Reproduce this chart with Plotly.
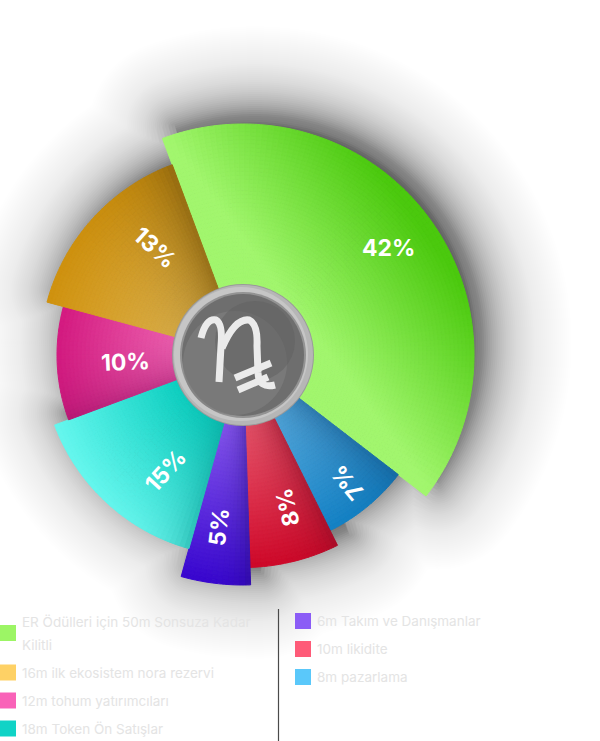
import numpy as np
import plotly.graph_objects as go

# ---------------- data (clockwise from the green slice) ----------------
slice_names = ["ER Ödülleri için 50m Sonsuza Kadar Kilitli", "8m pazarlama", "10m likidite",
               "6m Takım ve Danışmanlar", "18m Token Ön Satışlar", "12m tohum yatırımcıları",
               "16m ilk ekosistem nora rezervi"]
pct_labels = ["42%", "7%", "8%", "5%", "15%", "10%", "13%"]
sweep_deg = [148.0, 26.0, 24.5, 17.5, 54.0, 35.5, 54.5]      # angular share
radius = [231, 196, 212.5, 230, 201, 186, 203]               # radial length
start_deg = -20.4

# legend (two columns)
legend_left = ["ER Ödülleri için 50m Sonsuza Kadar Kilitli", "16m ilk ekosistem nora rezervi",
               "12m tohum yatırımcıları", "18m Token Ön Satışlar"]
legend_left_colors = ["#9cf565", "#fed165", "#f962b8", "#10d3c6"]
legend_right = ["6m Takım ve Danışmanlar", "10m likidite", "8m pazarlama"]
legend_right_colors = ["#8b5cf6", "#fe5b78", "#5ac8fa"]

# ---------------- style ----------------
W, H = 600, 741
CX, CY, R0 = 243, 355, 243
label_frac = [0.78, 0.84, 0.86, 0.855, 0.785, 0.78, 0.785]

# gradient styles: (inner, outer, shadow colour, shadow edge ('s' start/'e' end), strength, width)
styles = [
    None,  # green: linear along bisector
    ("#5cb2e6", "#1382c6", "#16578a", "s", 0.6, 28),
    ("#f05c72", "#cf0829", "#8c0e26", "s", 0.6, 22),
    ("#8c5cf4", "#3806cf", "#28107e", "s", 0.5, 14),
    ("#0fd2c3", "#66f7ee", "#089a92", "s", 0.55, 26),
    ("#f266b4", "#d41a80", "#9c166a", "s", 0.55, 26),
    ("#e5b850", "#d0920e", "#876210", "e", 0.8, 40),
]


def hex2rgb(h):
    h = h.lstrip("#")
    return np.array([int(h[i:i + 2], 16) for i in (0, 2, 4)], dtype=float)


def mix(a, b, t):
    return a + (b - a) * t


def rgbstr(c):
    c = np.clip(c, 0, 255)
    return "rgb(%d,%d,%d)" % tuple(int(round(v)) for v in c)


def px2paper(x, y):
    return x / W, 1 - y / H


starts = np.concatenate([[start_deg], start_deg + np.cumsum(sweep_deg)[:-1]])
mids = starts + np.array(sweep_deg) / 2

fig = go.Figure()

RIN = 58
for i in range(len(sweep_deg)):
    a0, sw, R = starts[i], sweep_deg[i], radius[i]
    na = max(4, int(np.ceil(sw / 1.5)))
    nr = max(4, int(np.ceil((R - RIN) / 4.0)))
    aw = sw / na
    edges_r = np.linspace(RIN, R, nr + 1)
    th_list, w_list, b_list, r_list, c_list = [], [], [], [], []
    for ia in range(na):
        thc = a0 + (ia + 0.5) * aw
        for ir in range(nr):
            rb, rt = edges_r[ir], edges_r[ir + 1]
            rc = 0.5 * (rb + rt)
            if styles[i] is None:
                proj = rc * np.cos(np.radians(thc - mids[i])) / R
                t = np.clip((proj - 0.3) / (0.95 - 0.3), 0, 1)
                col = mix(hex2rgb("#a2f66e"), hex2rgb("#4bc90e"), t)
            else:
                cin, cout, csh, edge, strength, wid = styles[i]
                t = np.clip((rc - 70) / (R - 70), 0, 1)
                col = mix(hex2rgb(cin), hex2rgb(cout), t)
                ea = a0 if edge == "s" else a0 + sw
                dist = rc * abs(np.sin(np.radians(thc - ea)))
                f = strength * np.exp(-dist / wid)
                col = mix(col, hex2rgb(csh), f)
            th_list.append(thc)
            w_list.append(aw)
            b_list.append(rb)
            r_list.append(rt - rb)
            c_list.append(rgbstr(col))
    fig.add_trace(go.Barpolar(
        r=r_list, base=b_list, theta=th_list, width=w_list,
        marker=dict(color=c_list, line=dict(color=c_list, width=1.0)),
        hoverinfo="skip", showlegend=False))

shapes = []

# ---- soft drop shadow behind the chart (dilated / eroded silhouette, layered) ----
grid = np.arange(0, 360, 0.75)


def dilated_profile(d):
    prof = np.full(grid.shape, float(max(d, 0)))
    for i in range(len(sweep_deg)):
        a0, sw, R = starts[i] % 360, sweep_deg[i], radius[i]
        rel = (grid - a0) % 360
        inside = rel <= sw
        dist = np.where(inside, 0, np.minimum(rel - sw, 360 - rel))
        dr = np.radians(dist)
        s = R * np.sin(dr)
        ok = (s <= d) & (dr < np.pi / 2) & (d > 0)
        f = np.where(ok, R * np.cos(dr) + np.sqrt(np.maximum(d * d - s * s, 0)), 0)
        f = np.where(inside, R + d, f)
        prof = np.maximum(prof, f)
    return prof


SHX, SHY = 12, -12
DMIN, DMAX, STEP, PEAK, SCALE = -16, 120, 2, 0.55, 38.0
ds = np.arange(DMIN, DMAX + STEP, STEP)
d_end = PEAK * np.exp(-(DMAX + STEP - DMIN) / SCALE)


def dark(d):
    v = PEAK * np.exp(-(d - DMIN) / SCALE)
    return max(0.0, (v - d_end) * PEAK / (PEAK - d_end))


s_of = lambda d: -np.log(1 - dark(d))
for k, d in enumerate(ds):
    s_next = s_of(ds[k + 1]) if k + 1 < len(ds) else 0.0
    alpha = 1 - np.exp(-(s_of(d) - s_next))
    prof = dilated_profile(d)
    pts = [px2paper(CX + SHX + r * np.sin(np.radians(a)), CY + SHY - r * np.cos(np.radians(a)))
           for a, r in zip(grid, prof)]
    path = "M " + " L ".join("%.5f,%.5f" % p for p in pts) + " Z"
    shapes.append(dict(type="path", xref="paper", yref="paper", path=path,
                       fillcolor="rgba(0,0,0,%.4f)" % alpha, line=dict(width=0), layer="below"))


# ---- centre logo ----
def circle(r, color, ox=0, oy=0, opacity=1.0):
    x0, y0 = px2paper(CX + ox - r, CY + oy + r)
    x1, y1 = px2paper(CX + ox + r, CY + oy - r)
    return dict(type="circle", xref="paper", yref="paper", x0=x0, y0=y0, x1=x1, y1=y1,
                fillcolor=color, line=dict(width=0), layer="above", opacity=opacity)


shapes += [
    circle(71, "#9a9a9a"),
    circle(70, "#b6b6b6"),
    circle(67, "#c6c6c6", ox=-2, oy=-1),
    circle(63, "#939393"),
    circle(61, "#6e6e6e"),
    circle(52, "#7e7e7e", ox=-8, oy=8, opacity=0.7),
    circle(40, "#606060", ox=12, oy=-14, opacity=0.5),
]


def pathpx(cmds):
    out = []
    for c in cmds:
        if isinstance(c, str):
            out.append(c)
        else:
            x, y = px2paper(*c)
            out.append("%.5f,%.5f" % (x, y))
    return " ".join(out)


glyph = [
    ["M", (201, 338), "Q", (206, 318), (216, 320), "Q", (223, 324), (221, 346), "L", (219, 382)],
    ["M", (222, 348), "Q", (235, 318), (249, 320), "Q", (258, 324), (257, 346), "L", (258, 373),
     "Q", (259, 389), (275, 385)],
    ["M", (235, 378), "L", (271, 363)],
    ["M", (238, 390), "L", (268, 377)],
]
for g in glyph:
    shapes.append(dict(type="path", xref="paper", yref="paper", path=pathpx(g),
                       line=dict(color="#ebebeb", width=7), layer="above"))

# ---- slice labels ----
annotations = []
for i, lab in enumerate(pct_labels):
    th = np.radians(mids[i])
    lr = label_frac[i] * radius[i]
    x, y = px2paper(CX + lr * np.sin(th), CY - lr * np.cos(th))
    ang = mids[i] + 90
    ang = (ang + 180) % 360 - 180
    if sweep_deg[i] > 90:
        ang = 0
    annotations.append(dict(x=x, y=y, xref="paper", yref="paper", text="<b>%s</b>" % lab,
                            showarrow=False, textangle=ang,
                            font=dict(family="Inter", size=23, color="white")))


# ---- custom legend ----
def wrap(text, n):
    words, lines, cur = text.split(" "), [], ""
    for w in words:
        if len(cur) + len(w) + (1 if cur else 0) > n:
            lines.append(cur)
            cur = w
        else:
            cur = (cur + " " + w) if cur else w
    lines.append(cur)
    return lines


def legend_column(names, colors, x_sq, x_txt, y_first):
    y = y_first
    for name, col in zip(names, colors):
        lines = wrap(name, 34)
        ctr = y + (len(lines) - 1) * 23 / 2
        x0, y0 = px2paper(x_sq, ctr + 8)
        x1, y1 = px2paper(x_sq + 16, ctr - 8)
        shapes.append(dict(type="rect", xref="paper", yref="paper", x0=x0, y0=y0, x1=x1, y1=y1,
                           fillcolor=col, line=dict(width=0)))
        for k, ln in enumerate(lines):
            tx, ty = px2paper(x_txt, y + k * 23)
            annotations.append(dict(x=tx, y=ty, xref="paper", yref="paper", text=ln,
                                    showarrow=False, xanchor="left", yanchor="middle",
                                    font=dict(family="Inter", size=13.5, color="#e4e4e4")))
        y += (len(lines) - 1) * 23 + 28


legend_column(legend_left, legend_left_colors, 0, 20, 621.5)
legend_column(legend_right, legend_right_colors, 295, 315, 621)

lx0, ly0 = px2paper(278.5, 609)
lx1, ly1 = px2paper(278.5, 741)
shapes.append(dict(type="line", xref="paper", yref="paper", x0=lx0, y0=ly0, x1=lx1, y1=ly1,
                   line=dict(color="#4a4a4a", width=1.2)))

fig.update_layout(
    width=W, height=H, margin=dict(l=0, r=0, t=0, b=0),
    paper_bgcolor="white", plot_bgcolor="white", template="none",
    polar=dict(
        domain=dict(x=[(CX - R0) / W, (CX + R0) / W], y=[1 - (CY + R0) / H, 1 - (CY - R0) / H]),
        bgcolor="rgba(0,0,0,0)", barmode="overlay",
        radialaxis=dict(visible=False, range=[0, R0]),
        angularaxis=dict(visible=False, direction="clockwise", rotation=90),
    ),
    shapes=shapes, annotations=annotations, showlegend=False,
)

fig.write_html("out.html", config={"displayModeBar": False, "staticPlot": True},
               post_script="document.body.style.margin='0';document.body.style.padding='0';")
